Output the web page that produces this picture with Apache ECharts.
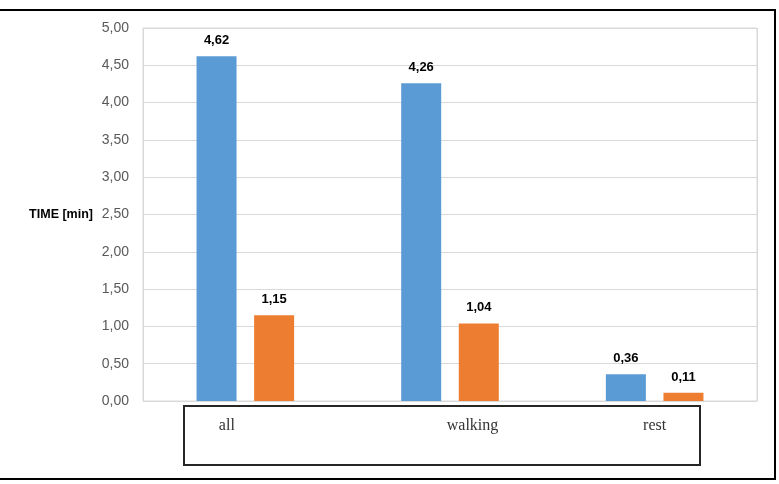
<!DOCTYPE html>
<html>
<head>
<meta charset="utf-8">
<script src="https://cdn.jsdelivr.net/npm/echarts@6/dist/echarts.min.js"></script>
<style>
  html, body { margin: 0; padding: 0; background: #fff; }
  #chart { width: 779px; height: 484px; }
</style>
</head>
<body>
<div id="chart"></div>
<script>
const categories = ['all', 'walking', 'rest'];
const seriesA = [4.62, 4.26, 0.36];
const seriesB = [1.15, 1.04, 0.11];
const yTicks = [0, 0.5, 1, 1.5, 2, 2.5, 3, 3.5, 4, 4.5, 5];

// labels sit in a text box, not exactly under each group
const labelPad = { all: [0, 37, 0, 0], walking: [0, 0, 0, 45], rest: [0, 0, 0, 0] };

const fmt = function (v) { return v.toFixed(2).replace('.', ','); };

const myChart = echarts.init(document.getElementById('chart'));

const rich = {};
categories.forEach(function (c) {
  rich[c] = {
    fontFamily: 'Liberation Serif',
    fontSize: 16,
    color: '#333',
    padding: labelPad[c]
  };
});

const option = {
  backgroundColor: '#fff',
  animation: false,
  grid: {
    left: 143, top: 28, right: 22, bottom: 83,
    show: true, borderColor: '#d9d9d9', borderWidth: 1
  },
  xAxis: {
    type: 'category',
    data: categories,
    axisLine: { show: false },
    axisTick: { show: false },
    splitLine: {
      show: true,
      interval: function (i) { return i === 2; },
      lineStyle: { color: '#d9d9d9' }
    },
    axisLabel: {
      margin: 17,
      formatter: function (v) { return '{' + v + '|' + v + '}'; },
      rich: rich
    }
  },
  yAxis: {
    type: 'value',
    min: yTicks[0],
    max: yTicks[yTicks.length - 1],
    interval: 0.5,
    name: 'TIME [min]',
    nameLocation: 'middle',
    nameRotate: 0,
    nameGap: 50,
    nameTextStyle: { fontFamily: 'Liberation Sans', fontSize: 12.5, fontWeight: 'bold', color: '#000' },
    axisLine: { show: false },
    axisTick: { show: false },
    splitLine: { lineStyle: { color: '#d9d9d9' } },
    axisLabel: {
      margin: 14,
      fontFamily: 'Liberation Sans',
      fontSize: 14,
      color: '#595959',
      formatter: fmt
    }
  },
  series: [{
    type: 'bar',
    data: seriesA,
    barWidth: 40,
    barGap: '44%',
    itemStyle: { color: '#5b9bd5' },
    label: {
      show: true, position: 'top', distance: 9,
      fontFamily: 'Liberation Sans', fontSize: 13, fontWeight: 'bold', color: '#000',
      formatter: function (p) { return fmt(p.value); }
    }
  }, {
    type: 'bar',
    data: seriesB,
    barWidth: 40,
    itemStyle: { color: '#ed7d31' },
    label: {
      show: true, position: 'top', distance: 9,
      fontFamily: 'Liberation Sans', fontSize: 13, fontWeight: 'bold', color: '#000',
      formatter: function (p) { return fmt(p.value); }
    }
  }],
  graphic: [{
    type: 'rect',
    shape: { x: 184, y: 406, width: 516, height: 59 },
    style: { fill: 'none', stroke: '#262626', lineWidth: 2 },
    z: 10
  }, {
    type: 'polyline',
    shape: { points: [[0, 10], [775, 10], [775, 479], [0, 479]] },
    style: { fill: 'none', stroke: '#000', lineWidth: 2 },
    z: 10
  }]
};
myChart.setOption(option);
</script>
</body>
</html>
